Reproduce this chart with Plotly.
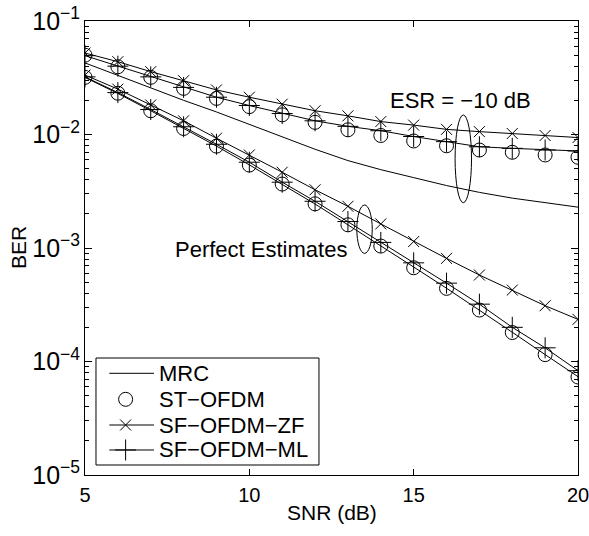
import plotly.graph_objects as go

snr = list(range(5, 21))

# ESR = -10 dB curves
mrc_esr = [0.0427, 0.0331, 0.0257, 0.0200, 0.0158, 0.0123, 0.00955, 0.00741,
           0.00589, 0.00490, 0.00417, 0.00355, 0.00309, 0.00275, 0.00251, 0.00229]
st_esr = [0.0500, 0.0395, 0.0319, 0.0255, 0.0208, 0.0176, 0.0149, 0.0128,
          0.0110, 0.0098, 0.00877, 0.00796, 0.00730, 0.00697, 0.00660, 0.00630]
zf_esr = [0.0522, 0.0438, 0.0358, 0.0298, 0.0247, 0.0213, 0.0185, 0.0162,
          0.0146, 0.0130, 0.0121, 0.0111, 0.0106, 0.0102, 0.0098, 0.0094]
ml_esr = [0.0495, 0.0400, 0.0322, 0.0260, 0.0213, 0.0180, 0.0153, 0.0132,
          0.0118, 0.0108, 0.0096, 0.00865, 0.00780, 0.00755, 0.00730, 0.00716]

# Perfect estimates curves
mrc_perf = [0.0318, 0.0230, 0.0162, 0.0113, 0.0079, 0.0054, 0.00365, 0.00244,
            0.00160, 0.00105, 0.00068, 0.000442, 0.000284, 0.000181, 0.000115, 0.0000735]
st_perf = [0.0319, 0.0231, 0.0162, 0.0113, 0.0079, 0.00538, 0.00366, 0.00245,
           0.00160, 0.00104, 0.00067, 0.000441, 0.000284, 0.000180, 0.000115, 0.000073]
zf_perf = [0.0334, 0.0251, 0.0182, 0.0132, 0.00927, 0.0066, 0.00465, 0.00326,
           0.00233, 0.00163, 0.00114, 0.00081, 0.000578, 0.000426, 0.00031, 0.000235]
ml_perf = [0.0322, 0.0234, 0.0166, 0.0117, 0.0082, 0.0057, 0.0038, 0.00258,
           0.00171, 0.00112, 0.00074, 0.00049, 0.00032, 0.00020, 0.000132, 0.000083]

x_ticks = [5, 10, 15, 20]
series_names = ["MRC", "ST\u2212OFDM", "SF\u2212OFDM\u2212ZF", "SF\u2212OFDM\u2212ML"]
x_title = "SNR (dB)"
y_title = "BER"

# ellipse annotations (SNR range, BER range)
esr_ellipse = dict(x=[16.26, 16.76], y=[0.01486, 0.002506])
perf_ellipse = dict(x=[13.27, 13.74], y=[0.002393, 0.000897])

FONT = "Liberation Sans, Arial, Helvetica, sans-serif"
BLACK = "black"

STYLE = {
    series_names[0]: dict(mode="lines", symbol="circle", size=1),
    series_names[1]: dict(mode="markers", symbol="circle-open", size=14),
    series_names[2]: dict(mode="lines+markers", symbol="x-thin-open", size=11),
    series_names[3]: dict(mode="lines+markers", symbol="cross-thin-open", size=15),
}

fig = go.Figure()

def add_curve(y, name):
    s = STYLE[name]
    fig.add_trace(go.Scatter(
        x=snr, y=y, name=name, mode=s["mode"], legendgroup=name, showlegend=False,
        line=dict(color=BLACK, width=1),
        marker=dict(symbol=s["symbol"], size=s["size"], color=BLACK,
                    line=dict(color=BLACK, width=1)),
    ))

add_curve(mrc_esr, series_names[0])
add_curve(mrc_perf, series_names[0])
add_curve(st_esr, series_names[1])
add_curve(st_perf, series_names[1])
add_curve(zf_esr, series_names[2])
add_curve(zf_perf, series_names[2])
add_curve(ml_esr, series_names[3])
add_curve(ml_perf, series_names[3])

for e in (esr_ellipse, perf_ellipse):
    fig.add_shape(type="circle", xref="x", yref="y",
                  x0=e["x"][0], x1=e["x"][1], y0=e["y"][0], y1=e["y"][1],
                  line=dict(color=BLACK, width=1))

fig.add_annotation(x=16.41, y=-1.696, xref="x", yref="y", text="ESR = \u221210 dB",
                   showarrow=False, font=dict(family=FONT, size=22, color=BLACK))
fig.add_annotation(x=10.35, y=-3.015, xref="x", yref="y", text="Perfect Estimates",
                   showarrow=False, font=dict(family=FONT, size=22, color=BLACK))

# axis titles placed precisely
fig.add_annotation(x=0.5, y=-0.0837, xref="paper", yref="paper", text=x_title,
                   showarrow=False, xanchor="center", yanchor="middle",
                   font=dict(family=FONT, size=21, color=BLACK))
fig.add_annotation(x=-0.1359, y=0.5, xref="paper", yref="paper", text=y_title,
                   showarrow=False, xanchor="center", yanchor="middle", textangle=-90,
                   font=dict(family=FONT, size=21, color=BLACK))

# ---- legend box (drawn manually to match the reference's compact rows) ----
leg_box = dict(x0=0.0223, x1=0.4746, y0=0.022, y1=0.2577)
leg_rows = [0.224, 0.1667, 0.1101, 0.0551]
leg_line_x = [0.0493, 0.1400]
leg_mark_x = 0.0824
leg_text_x = 0.1467

fig.add_shape(type="rect", xref="paper", yref="paper", layer="above",
              x0=leg_box["x0"], x1=leg_box["x1"], y0=leg_box["y0"], y1=leg_box["y1"],
              line=dict(color=BLACK, width=1), fillcolor="rgba(0,0,0,0)")
for name, yrow in zip(series_names, leg_rows):
    s = STYLE[name]
    if "lines" in s["mode"]:
        fig.add_shape(type="line", xref="paper", yref="paper", layer="above",
                      x0=leg_line_x[0], x1=leg_line_x[1], y0=yrow, y1=yrow,
                      line=dict(color=BLACK, width=1))
    if "markers" in s["mode"]:
        fig.add_trace(go.Scatter(
            x=[leg_mark_x], y=[yrow], xaxis="x2", yaxis="y2", mode="markers",
            showlegend=False, hoverinfo="skip", cliponaxis=False,
            marker=dict(symbol=s["symbol"], size=s["size"], color=BLACK,
                        line=dict(color=BLACK, width=1)),
        ))
    fig.add_annotation(x=leg_text_x, y=yrow, xref="paper", yref="paper",
                       xanchor="left", yanchor="middle", text=name, showarrow=False,
                       font=dict(family=FONT, size=22, color=BLACK))

fig.update_layout(
    width=589, height=536,
    margin=dict(l=85, r=11, t=21, b=61),
    paper_bgcolor="white", plot_bgcolor="white",
    font=dict(family=FONT, size=20, color=BLACK),
    showlegend=False,
    xaxis=dict(
        range=[5, 20], tickvals=x_ticks, ticktext=[str(v) for v in x_ticks],
        ticks="inside", ticklen=6, tickcolor=BLACK, showgrid=False, zeroline=False,
        showline=True, linecolor=BLACK, linewidth=1, mirror="allticks",
        automargin=False, ticklabeloverflow="allow", ticklabelstandoff=2,
        tickfont=dict(family=FONT, size=20),
    ),
    yaxis=dict(
        type="log", range=[-5, -1], dtick=1, exponentformat="power",
        ticks="inside", ticklen=7, tickcolor=BLACK, showgrid=False, zeroline=False,
        showline=True, linecolor=BLACK, linewidth=1, mirror="allticks",
        automargin=False, ticklabeloverflow="allow",
        minor=dict(ticks="inside", ticklen=4, dtick="D1", tickcolor=BLACK, showgrid=False),
        tickfont=dict(family=FONT, size=20),
    ),
    xaxis2=dict(domain=[0, 1], range=[0, 1], overlaying="x", visible=False,
                fixedrange=True),
    yaxis2=dict(domain=[0, 1], range=[0, 1], overlaying="y", visible=False,
                fixedrange=True),
)

# remove the browser's default 8 px body margin so the figure fills the window
fig.write_html("out.html",
               config={"displayModeBar": False},
               post_script="document.body.style.margin='0';"
                           "document.body.style.overflow='hidden';")
